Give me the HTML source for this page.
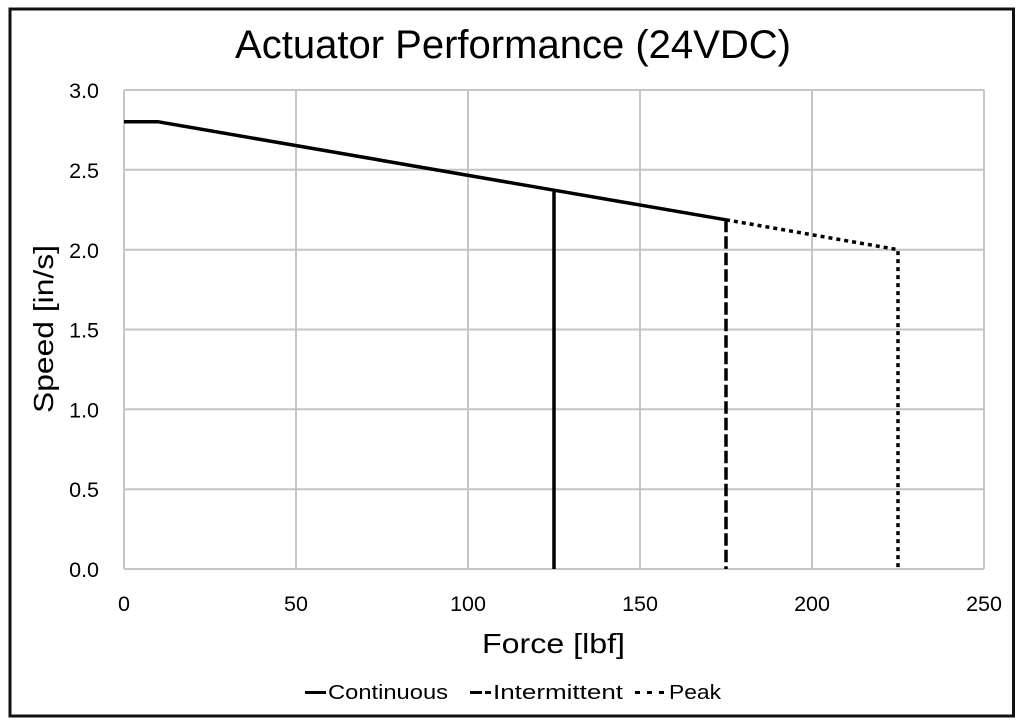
<!DOCTYPE html>
<html>
<head>
<meta charset="utf-8">
<style>
html,body{margin:0;padding:0;background:#fff;}
svg{display:block;}
text{font-family:"Liberation Sans",sans-serif;fill:#000;}
</style>
</head>
<body>
<svg width="1024" height="728" viewBox="0 0 1024 728" xmlns="http://www.w3.org/2000/svg">
<rect x="0" y="0" width="1024" height="728" fill="#fff"/>
<rect x="10" y="9" width="1003.5" height="707" fill="none" stroke="#111" stroke-width="3"/>

<!-- title -->
<text x="235" y="58" font-size="40" textLength="556" lengthAdjust="spacingAndGlyphs">Actuator Performance (24VDC)</text>

<!-- gridlines -->
<g stroke="#c6c6c6" stroke-width="2" fill="none">
<line x1="124" y1="90" x2="124" y2="569"/>
<line x1="296" y1="90" x2="296" y2="569"/>
<line x1="468" y1="90" x2="468" y2="569"/>
<line x1="640" y1="90" x2="640" y2="569"/>
<line x1="812" y1="90" x2="812" y2="569"/>
<line x1="984" y1="90" x2="984" y2="569"/>
<line x1="124" y1="90" x2="984" y2="90"/>
<line x1="124" y1="169.8" x2="984" y2="169.8"/>
<line x1="124" y1="249.7" x2="984" y2="249.7"/>
<line x1="124" y1="329.5" x2="984" y2="329.5"/>
<line x1="124" y1="409.3" x2="984" y2="409.3"/>
<line x1="124" y1="489.2" x2="984" y2="489.2"/>
<line x1="124" y1="569" x2="984" y2="569"/>
</g>

<!-- y tick labels -->
<g font-size="21.5" text-anchor="end">
<text x="99" y="98">3.0</text>
<text x="99" y="178">2.5</text>
<text x="99" y="258">2.0</text>
<text x="99" y="337.5">1.5</text>
<text x="99" y="417.5">1.0</text>
<text x="99" y="497">0.5</text>
<text x="99" y="577">0.0</text>
</g>

<!-- x tick labels -->
<g font-size="21.5" text-anchor="middle">
<text x="124" y="611">0</text>
<text x="296" y="611">50</text>
<text x="468" y="611">100</text>
<text x="640" y="611">150</text>
<text x="812" y="611">200</text>
<text x="984" y="611">250</text>
</g>

<!-- axis titles -->
<text x="482" y="653" font-size="28" textLength="143" lengthAdjust="spacingAndGlyphs">Force [lbf]</text>
<text transform="translate(53,413) rotate(-90)" x="0" y="0" font-size="28" textLength="168" lengthAdjust="spacingAndGlyphs">Speed [in/s]</text>

<!-- series -->
<g fill="none" stroke="#000" stroke-width="3.5" stroke-linejoin="round">
<polyline points="124,121.8 158.4,121.8 554,190.2 554,569"/>
<polyline points="554,190.2 726,219.8"/>
<line x1="726" y1="219.8" x2="726" y2="569" stroke-dasharray="12.5,4"/>
<polyline points="726,219.8 898,249.7 898,569" stroke-dasharray="4,4"/>
</g>

<!-- legend -->
<g stroke="#000" stroke-width="3">
<line x1="305" y1="692.5" x2="326" y2="692.5"/>
<line x1="470" y1="692.5" x2="482" y2="692.5"/>
<line x1="485" y1="692.5" x2="491" y2="692.5"/>
<line x1="635" y1="692.5" x2="640" y2="692.5"/>
<line x1="647" y1="692.5" x2="652" y2="692.5"/>
<line x1="659" y1="692.5" x2="664" y2="692.5"/>
</g>
<g font-size="20">
<text x="328" y="699" textLength="120" lengthAdjust="spacingAndGlyphs">Continuous</text>
<text x="493" y="699" textLength="130" lengthAdjust="spacingAndGlyphs">Intermittent</text>
<text x="669" y="699" textLength="52" lengthAdjust="spacingAndGlyphs">Peak</text>
</g>
</svg>
</body>
</html>
